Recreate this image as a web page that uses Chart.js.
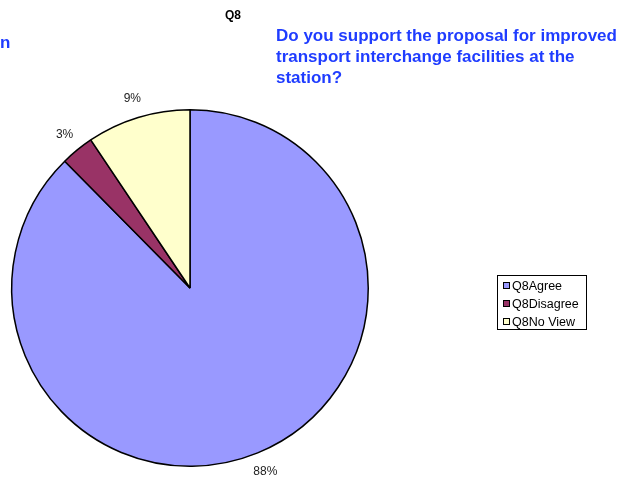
<!DOCTYPE html>
<html>
<head>
<meta charset="utf-8">
<script src="https://cdn.jsdelivr.net/npm/chart.js@4"></script>
<style>
  html, body { margin: 0; padding: 0; background: #fff; }
  #wrap { position: relative; width: 641px; height: 479px; overflow: hidden; font-family: "Liberation Sans", Arial, sans-serif; }
  canvas { position: absolute; left: 0; top: 0; }
  .title { position: absolute; left: 225px; top: 8px; font-size: 12px; font-weight: bold; color: #000; }
  .sub { position: absolute; left: 276px; top: 25px; font-size: 17px; line-height: 21px; font-weight: bold; color: #1f3cff; width: 350px; }
  .cut { position: absolute; left: 0px; top: 33px; font-size: 17px; font-weight: bold; color: #1f3cff; }
  #legend { position: absolute; left: 497px; top: 275px; width: 90px; height: 55px; border: 1px solid #000; box-sizing: border-box; font-size: 12.5px; color: #000; }
  #legend .item { position: absolute; left: 5px; height: 14px; line-height: 14px; white-space: nowrap; }
  #legend .sw { display: inline-block; width: 5px; height: 5px; border: 1px solid #000; margin-right: 2px; vertical-align: 1px; }
</style>
</head>
<body>
<div id="wrap">
  <canvas id="c" width="641" height="479"></canvas>
  <div class="title">Q8</div>
  <div class="cut">n</div>
  <div class="sub">Do you support the proposal for improved transport interchange facilities at the station?</div>
  <div id="legend"></div>
</div>
<script>
const categories = ["Q8Agree", "Q8Disagree", "Q8No View"];
const values = [87.6, 3.0, 9.4];
const colors = ["#9999ff", "#993366", "#ffffcc"];

// legend
const legend = document.getElementById('legend');
categories.forEach((c, i) => {
  const d = document.createElement('div');
  d.className = 'item';
  d.style.top = (3 + i * 18) + 'px';
  d.innerHTML = '<span class="sw" style="background:' + colors[i] + '"></span>' + c;
  legend.appendChild(d);
});

const labelPlugin = {
  id: 'outLabels',
  afterDatasetsDraw(chart) {
    const ctx = chart.ctx;
    const meta = chart.getDatasetMeta(0);
    const total = values.reduce((a, b) => a + b, 0);
    ctx.save();
    ctx.font = '12px "Liberation Sans", Arial, sans-serif';
    ctx.fillStyle = '#222';
    ctx.textAlign = 'center';
    ctx.textBaseline = 'middle';
    meta.data.forEach((arc, i) => {
      const p = arc.getProps(['x', 'y', 'startAngle', 'endAngle', 'outerRadius'], true);
      const mid = (p.startAngle + p.endAngle) / 2;
      const r = p.outerRadius + 20;
      const x = p.x + Math.cos(mid) * r;
      const y = p.y + Math.sin(mid) * r;
      ctx.fillText(Math.round(values[i] / total * 100) + '%', x, y);
    });
    ctx.restore();
  }
};

new Chart(document.getElementById('c'), {
  type: 'pie',
  data: {
    labels: categories,
    datasets: [{
      data: values,
      backgroundColor: colors,
      borderColor: '#000',
      borderWidth: 1.5
    }]
  },
  options: {
    responsive: false,
    animation: false,
    layout: { padding: { left: 11, top: 109, right: 272, bottom: 12 } },
    plugins: { legend: { display: false }, tooltip: { enabled: false }, title: { display: false } }
  },
  plugins: [labelPlugin]
});
</script>
</body>
</html>
